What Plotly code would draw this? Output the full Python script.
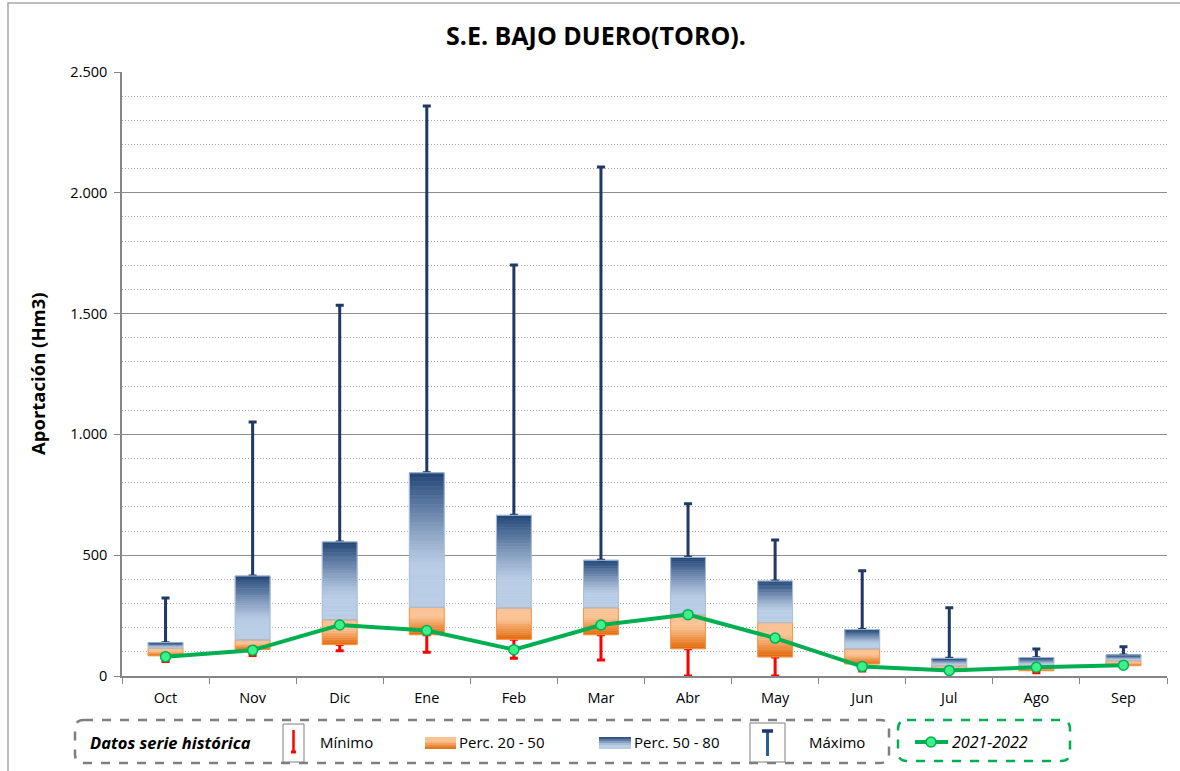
import plotly.graph_objects as go

# ---------------- data ----------------
months = ['Oct', 'Nov', 'Dic', 'Ene', 'Feb', 'Mar', 'Abr', 'May', 'Jun', 'Jul', 'Ago', 'Sep']
minimo = [60, 85, 105, 98, 73, 66, 0, 0, 21, 25, 13, 40]
p20 = [84, 110, 130, 171, 152, 171, 113, 79, 50, 28, 22, 43]
p50 = [115, 149, 232, 284, 281, 282, 252, 221, 112, 41, 41, 63]
p80 = [138, 414, 555, 841, 665, 479, 491, 393, 192, 73, 76, 87]
maximo = [323, 1051, 1535, 2359, 1701, 2107, 713, 563, 436, 283, 112, 121]
actual = [80, 107, 211, 188, 109, 211, 254, 157, 39, 23, 36, 45]
y_ticks = [0, 500, 1000, 1500, 2000, 2500]

FONT = "Open Sans, sans-serif"
W, H = 1180, 771
ML, MR, MT, MB = 122, 13, 72, 95
PW, PH = W - ML - MR, H - MT - MB


def X(px):
    return (px - ML) / PW


def Y(py):
    return (H - MB - py) / PH


def mix(c1, c2, t):
    return 'rgb(%d,%d,%d)' % tuple(round(a + (b - a) * t) for a, b in zip(c1, c2))


DARK_BLUE = (33, 68, 118)
LIGHT_BLUE = (185, 205, 229)
LIGHT_OR = (250, 195, 148)
DARK_OR = (226, 104, 8)


def blue_col(t):  # t: 0 bottom -> 1 top
    if t < 0.3:
        return mix(LIGHT_BLUE, LIGHT_BLUE, 0)
    return mix(LIGHT_BLUE, DARK_BLUE, ((t - 0.3) / 0.7) ** 1.2)


def orange_col(t):  # t: 0 bottom -> 1 top
    if t > 0.65:
        return mix(LIGHT_OR, LIGHT_OR, 0)
    return mix(DARK_OR, LIGHT_OR, t / 0.65)


fig = go.Figure()
BW = 0.4
NOLINE = dict(width=0)

# whiskers (drawn first so the boxes cover the inner caps)
fig.add_trace(go.Bar(
    x=months, y=[0] * 12, base=minimo, width=BW,
    marker=dict(color='rgba(0,0,0,0)', line=NOLINE),
    error_y=dict(type='data', symmetric=False,
                 array=[a - b for a, b in zip(p20, minimo)], arrayminus=[0] * 12,
                 color='#ff0000', thickness=3, width=4),
    hoverinfo='skip'))
fig.add_trace(go.Bar(
    x=months, y=[0] * 12, base=maximo, width=BW,
    marker=dict(color='rgba(0,0,0,0)', line=NOLINE),
    error_y=dict(type='data', symmetric=False,
                 array=[0] * 12, arrayminus=[a - b for a, b in zip(maximo, p80)],
                 color='#1f3864', thickness=3, width=4),
    hoverinfo='skip'))

# gradient boxes
NO, NB = 14, 30
for i in range(NO):
    t = (i + 0.5) / NO
    c = orange_col(t)
    fig.add_trace(go.Bar(
        x=months, width=BW,
        base=[lo + (hi - lo) * i / NO for lo, hi in zip(p20, p50)],
        y=[(hi - lo) / NO for lo, hi in zip(p20, p50)],
        marker=dict(color=c, line=dict(color=c, width=0.6)), hoverinfo='skip'))
for i in range(NB):
    t = (i + 0.5) / NB
    c = blue_col(t)
    fig.add_trace(go.Bar(
        x=months, width=BW,
        base=[lo + (hi - lo) * i / NB for lo, hi in zip(p50, p80)],
        y=[(hi - lo) / NB for lo, hi in zip(p50, p80)],
        marker=dict(color=c, line=dict(color=c, width=0.6)), hoverinfo='skip'))

# box outlines
fig.add_trace(go.Bar(x=months, width=BW, base=p20, y=[b - a for a, b in zip(p20, p50)],
                     marker=dict(color='rgba(0,0,0,0)', line=dict(color='#f79646', width=1)),
                     hoverinfo='skip'))
fig.add_trace(go.Bar(x=months, width=BW, base=p50, y=[b - a for a, b in zip(p50, p80)],
                     marker=dict(color='rgba(0,0,0,0)', line=dict(color='#a7bfde', width=1)),
                     hoverinfo='skip'))

# current year line
fig.add_trace(go.Scatter(
    x=months, y=actual, mode='lines+markers', name='2021-2022',
    line=dict(color='#00b050', width=4),
    marker=dict(size=10, color='#3cf08a', line=dict(color='#00b050', width=1.5))))

# ---------------- legend (drawn) ----------------
shapes = []
annotations = []


def rrect(x0, y0, x1, y1, r):
    pts = [
        ('M', [(x0 + r, y0)]), ('L', [(x1 - r, y0)]), ('Q', [(x1, y0), (x1, y0 + r)]),
        ('L', [(x1, y1 - r)]), ('Q', [(x1, y1), (x1 - r, y1)]), ('L', [(x0 + r, y1)]),
        ('Q', [(x0, y1), (x0, y1 - r)]), ('L', [(x0, y0 + r)]), ('Q', [(x0, y0), (x0 + r, y0)]),
    ]
    s = ''
    for cmd, ps in pts:
        s += cmd + ' ' + ' '.join('%.5f,%.5f' % (X(a), Y(b)) for a, b in ps) + ' '
    return s + 'Z'


def prect(x0, y0, x1, y1, **kw):
    d = dict(type='rect', xref='paper', yref='paper', x0=X(x0), x1=X(x1), y0=Y(y1), y1=Y(y0))
    d.update(kw)
    shapes.append(d)


def pline(x0, y0, x1, y1, color, width):
    shapes.append(dict(type='line', xref='paper', yref='paper', x0=X(x0), x1=X(x1),
                       y0=Y(y0), y1=Y(y1), line=dict(color=color, width=width)))


def ptext(px, py, text, size=15, anchor='left'):
    annotations.append(dict(xref='paper', yref='paper', x=X(px), y=Y(py), text=text,
                            showarrow=False, xanchor=anchor, yanchor='middle',
                            font=dict(family=FONT, size=size, color='#000000')))


# outer chart border
prect(8, 3, 1200, 790, line=dict(color='#a6a6a6', width=1.5), fillcolor='rgba(0,0,0,0)')

shapes.append(dict(type='path', xref='paper', yref='paper', path=rrect(75, 720, 889, 763, 9),
                   line=dict(color='#7f7f7f', width=2.5, dash='dash')))
shapes.append(dict(type='path', xref='paper', yref='paper', path=rrect(898, 720, 1070, 761, 9),
                   line=dict(color='#00b050', width=2.5, dash='dash')))

ptext(88, 742, '<b><i>Datos serie histórica</i></b>', size=16.5)

# Minimo icon
prect(283, 724, 304, 762, line=dict(color='#7f7f7f', width=1), fillcolor='white')
pline(293.5, 730, 293.5, 752, '#ff0000', 2.5)
pline(291, 752, 296, 752, '#ff0000', 3)
ptext(318, 742, 'Mínimo')

# Perc 20-50 swatch
for k in range(6):
    prect(425, 737 + 2 * k, 456, 739 + 2 * k, line=dict(width=0),
          fillcolor=orange_col(1 - (k + 0.5) / 6))
ptext(457, 742, 'Perc. 20 - 50')

# Perc 50-80 swatch
for k in range(6):
    prect(599, 737 + 2 * k, 631, 739 + 2 * k, line=dict(width=0),
          fillcolor=blue_col(1 - (k + 0.5) / 6))
ptext(632, 742, 'Perc. 50 - 80')

# Maximo icon
prect(750, 723, 785, 762, line=dict(color='#7f7f7f', width=1), fillcolor='white')
pline(767.5, 731, 767.5, 756, '#2e5c99', 3)
pline(762, 731, 773, 731, '#1f3864', 3.5)
ptext(807, 742, 'Máximo')

# 2021-2022 legend
pline(915, 742, 948, 742, '#00b050', 4)
shapes.append(dict(type='circle', xref='paper', yref='paper',
                   x0=X(926), x1=X(936), y0=Y(747), y1=Y(737),
                   fillcolor='#3cf08a', line=dict(color='#00b050', width=1.5)))
ptext(950, 742, '<i>2021-2022</i>', size=16)

annotations.append(dict(
    xref='paper', yref='paper', x=X(37), y=0.5, text='<b>Aportación (Hm3)</b>',
    textangle=-90, showarrow=False, xanchor='center', yanchor='middle',
    font=dict(family=FONT, size=18.5, color='#000000')))

fig.update_layout(
    width=W, height=H,
    margin=dict(l=ML, r=MR, t=MT, b=MB, autoexpand=False),
    paper_bgcolor='white', plot_bgcolor='white',
    barmode='overlay', showlegend=False,
    separators=',.',
    title=dict(text='<b>S.E. BAJO DUERO(TORO).</b>', x=596 / W, xref='container',
               xanchor='center', y=1 - 36 / H, yanchor='middle',
               font=dict(family=FONT, size=25, color='#000000')),
    font=dict(family=FONT, color='#000000'),
    xaxis=dict(type='category', categoryorder='array', categoryarray=months,
               range=[-0.5, 11.5], autorange=False,
               showline=True, linecolor='#868686', linewidth=1.5,
               ticks='outside', tickson='boundaries', ticklen=6, tickcolor='#868686',
               ticklabelstandoff=8,
               tickfont=dict(family=FONT, size=14.5, color='#000000'),
               showgrid=False, zeroline=False),
    yaxis=dict(range=[0, 2500], autorange=False, tickvals=y_ticks, tickformat=',d',
               showline=True, linecolor='#868686', linewidth=1.5,
               ticks='outside', ticklen=6, tickcolor='#868686',
               ticklabelstandoff=4,
               tickfont=dict(family=FONT, size=14.5, color='#000000'),
               showgrid=True, gridcolor='#8c8c8c', gridwidth=1, zeroline=False,
               minor=dict(dtick=100, showgrid=True, gridcolor='#a8a8a8',
                          griddash='1px,2px', gridwidth=1, ticks='')),
    shapes=shapes, annotations=annotations,
)

fig.write_html('out.html', config={'displayModeBar': False},
               post_script="document.body.style.margin='0px';")
